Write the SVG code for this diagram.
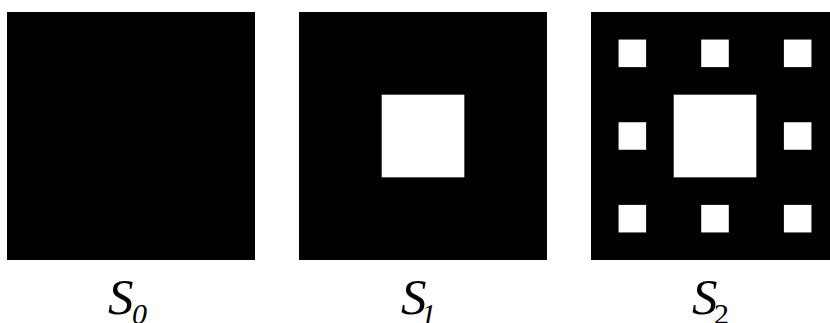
<svg xmlns="http://www.w3.org/2000/svg" width="830" height="323" viewBox="0 0 830 323">
<style>
.blk{fill:#000}
.hole{fill:#fff}
.lab{font-family:"Liberation Serif","Times New Roman",serif;fill:#000}
.it{font-style:italic}
.big{font-size:51px}
.sub{font-size:30px}
</style>
<rect width="830" height="323" fill="#fff"/>
<g id="s0">
<rect class="blk" x="7" y="12" width="248" height="248"/>
<text class="lab" y="314"><tspan class="it big" x="108">S</tspan><tspan class="it sub" x="132" y="324">0</tspan></text>
</g>
<g id="s1">
<rect class="blk" x="299" y="12" width="248" height="248"/>
<rect class="hole" x="381.67" y="94.67" width="82.67" height="82.67"/>
<text class="lab" y="314"><tspan class="it big" x="401">S</tspan><tspan class="it sub" x="421" y="324">1</tspan></text>
</g>
<g id="s2">
<rect class="blk" x="591" y="12" width="248" height="248"/>
<rect class="hole" x="673.67" y="94.67" width="82.67" height="82.67"/>
<rect class="hole" x="618.56" y="39.56" width="27.56" height="27.56"/>
<rect class="hole" x="701.22" y="39.56" width="27.56" height="27.56"/>
<rect class="hole" x="783.89" y="39.56" width="27.56" height="27.56"/>
<rect class="hole" x="618.56" y="122.22" width="27.56" height="27.56"/>
<rect class="hole" x="783.89" y="122.22" width="27.56" height="27.56"/>
<rect class="hole" x="618.56" y="204.89" width="27.56" height="27.56"/>
<rect class="hole" x="701.22" y="204.89" width="27.56" height="27.56"/>
<rect class="hole" x="783.89" y="204.89" width="27.56" height="27.56"/>
<text class="lab" y="314"><tspan class="it big" x="692">S</tspan><tspan class="sub" x="714" y="324">2</tspan></text>
</g>
<g id="connectors"/>
</svg>
